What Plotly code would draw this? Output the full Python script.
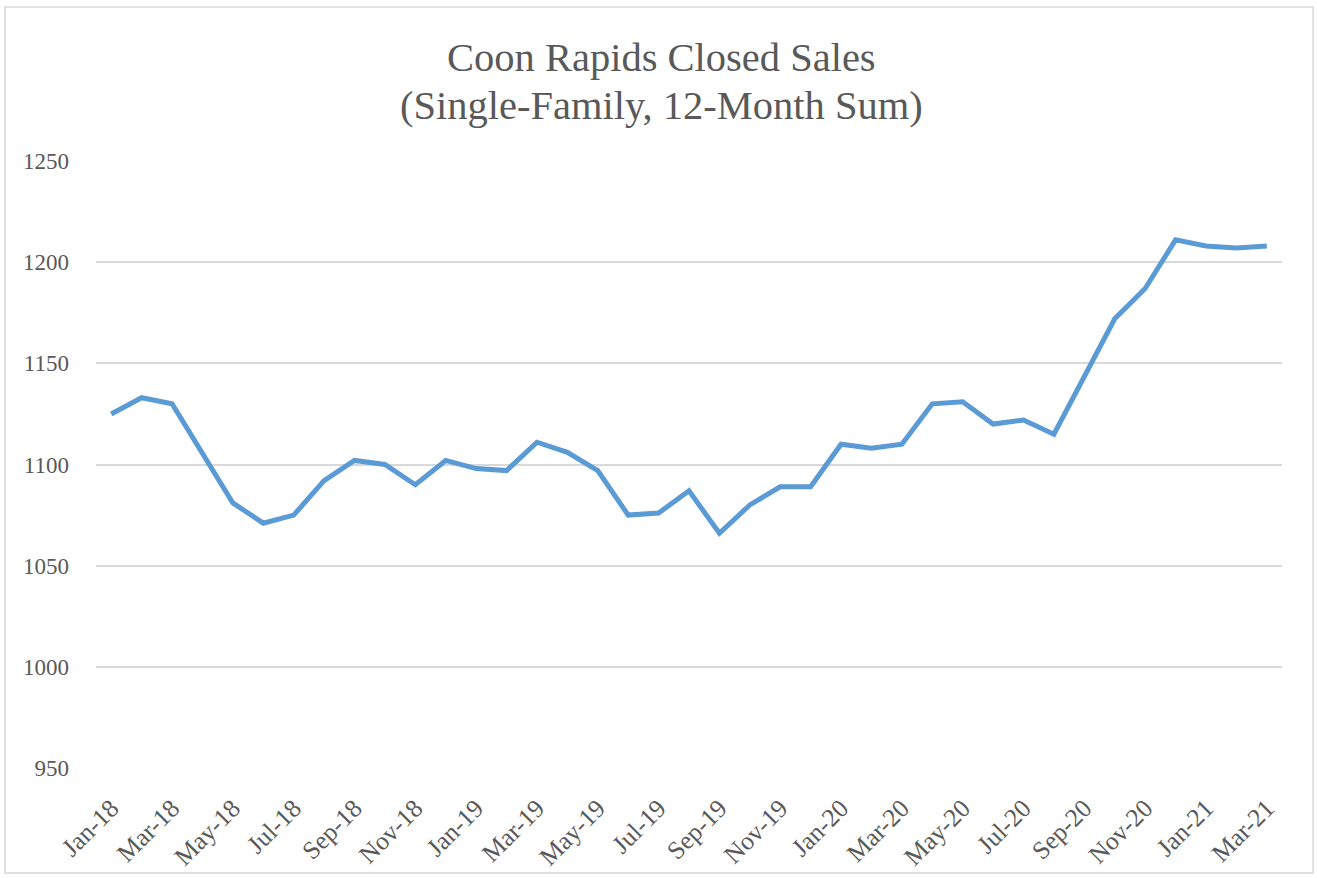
import plotly.graph_objects as go

months = ["Jan-18","Feb-18","Mar-18","Apr-18","May-18","Jun-18","Jul-18","Aug-18","Sep-18","Oct-18","Nov-18","Dec-18",
          "Jan-19","Feb-19","Mar-19","Apr-19","May-19","Jun-19","Jul-19","Aug-19","Sep-19","Oct-19","Nov-19","Dec-19",
          "Jan-20","Feb-20","Mar-20","Apr-20","May-20","Jun-20","Jul-20","Aug-20","Sep-20","Oct-20","Nov-20","Dec-20",
          "Jan-21","Feb-21","Mar-21"]
closed_sales = [1125,1133,1130,1105,1081,1071,1075,1092,1102,1100,1090,1102,
                1098,1097,1111,1106,1097,1075,1076,1087,1066,1080,1089,1089,
                1110,1108,1110,1130,1131,1120,1122,1115,1144,1172,1187,1211,
                1208,1207,1208]
tick_labels = months[::2]
y_ticks = [950, 1000, 1050, 1100, 1150, 1200, 1250]

FONT = "Palatino Linotype, Book Antiqua, Palatino, Liberation Serif, serif"
GREY = "#595959"

W, H = 1317, 878
L, R, T, B = 96, 35, 161, 110
plot_w = W - L - R
plot_h = H - T - B

def px_x(x):
    return (x - L) / plot_w

def px_y(y):
    return (H - B - y) / plot_h

fig = go.Figure()
fig.add_trace(go.Scatter(x=months, y=closed_sales, mode="lines",
                         line=dict(color="#5B9BD5", width=5), showlegend=False))

fig.update_layout(
    template="none",
    width=W, height=H,
    margin=dict(l=L, r=R, t=T, b=B, autoexpand=False),
    paper_bgcolor="white", plot_bgcolor="white",
    font=dict(family=FONT, color=GREY, size=22),
    xaxis=dict(type="category", categoryorder="array", categoryarray=months,
               tickmode="array", tickvals=tick_labels, ticktext=tick_labels,
               tickangle=-45, range=[-0.5, len(months) - 0.5], automargin=False,
               showgrid=False, zeroline=False, showline=False,
               ticks="outside", ticklen=14, tickcolor="rgba(0,0,0,0)",
               tickfont=dict(size=25.5, color=GREY, family=FONT)),
    yaxis=dict(range=[950, 1250], tickvals=y_ticks, showgrid=True, gridcolor="#D9D9D9",
               gridwidth=1.5, zeroline=False, showline=False, ticks="", ticklabelstandoff=26,
               automargin=False,
               tickfont=dict(size=23, color=GREY, family=FONT)),
    shapes=[dict(type="rect", xref="paper", yref="paper",
                 x0=px_x(5), x1=px_x(1313), y0=px_y(873), y1=px_y(7),
                 line=dict(color="#D9D9D9", width=1.5), fillcolor="rgba(0,0,0,0)", layer="below")],
    annotations=[
        dict(text="Coon Rapids Closed Sales", x=px_x(W / 2 + 3), xref="paper", y=px_y(57), yref="paper",
             xanchor="center", yanchor="middle",
             showarrow=False, font=dict(size=40.5, color=GREY, family=FONT)),
        dict(text="(Single-Family, 12-Month Sum)", x=px_x(W / 2 + 3), xref="paper", y=px_y(105), yref="paper",
             xanchor="center", yanchor="middle",
             showarrow=False, font=dict(size=40.5, color=GREY, family=FONT)),
    ],
)

fig.write_html("out.html", config={"displayModeBar": False},
               post_script="document.body.style.margin='0';")
